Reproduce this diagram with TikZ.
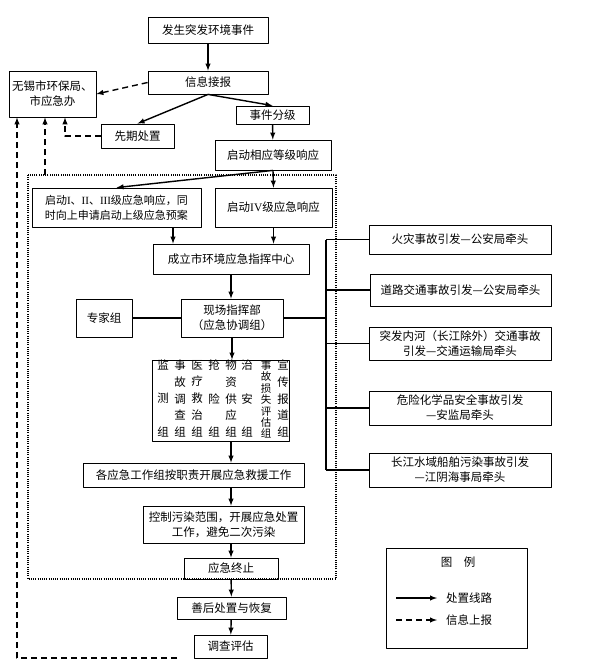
\documentclass[tikz,border=0pt]{standalone}
\usepackage{fontspec}
\setmainfont{Liberation Serif}
\newfontfamily\cjk{Noto Sans CJK SC}
\usepackage{tikz}

\begin{document}
\begin{tikzpicture}[x=1pt, y=-1pt, line join=round, >=latex,
    box/.style={draw, line width=0.8pt, inner sep=1pt, align=center,
      font=\cjk\fontsize{11.5}{15}\selectfont},
    txt/.style={inner sep=0pt, align=center, font=\cjk\fontsize{11.5}{15}\selectfont},
    flow/.style={->, line width=1.4pt},
    report/.style={->, line width=1.4pt, dash pattern=on 6pt off 4pt}]
  \useasboundingbox (0,0) rectangle (594,667);
  \def\mx{231}
  \coordinate (fr1) at (28,175); \coordinate (fr2) at (336,579);
  \coordinate (bus) at (326,0); \coordinate (rpt) at (177,658);
  \draw[line width=1.2pt, dash pattern=on 1pt off 1.2pt] (fr1) rectangle (fr2);
  % main chain
  \node[box, minimum width=120pt, minimum height=26pt] (ev) at (208,30) {发生突发环境事件};
  \node[box, minimum width=120pt, minimum height=23pt] (info) at (208,82.5) {信息接报};
  \node[box, minimum width=87pt, minimum height=46pt] (wx) at (52.5,94) {无锡市环保局、\\市应急办};
  \node[box, minimum width=73pt, minimum height=18pt] (cls) at (272.5,115) {事件分级};
  \node[box, minimum width=73pt, minimum height=24pt] (pre) at (137.5,136) {先期处置};
  \node[box, minimum width=116pt, minimum height=30pt] (lvl) at (273,155) {启动相应等级响应};
  \node[box, minimum width=169pt, minimum height=39pt, font=\cjk\fontsize{11}{15}\selectfont] (r13) at (116.5,207.5)
    {启动\textrm{I}、\textrm{II}、\textrm{III}级应急响应，同\\时向上申请启动上级应急预案};
  \node[box, minimum width=117pt, minimum height=39pt] (r4) at (273.5,207.5) {启动\textrm{IV}级应急响应};
  \node[box, minimum width=156pt, minimum height=30pt] (ctr) at (231,259) {成立市环境应急指挥中心};
  \node[box, minimum width=102pt, minimum height=38pt] (site) at (232,318) {现场指挥部\\（应急协调组）};
  \node[box, minimum width=56pt, minimum height=38pt] (exp) at (104,318) {专家组};
  \node[box, minimum width=137pt, minimum height=81pt] (groups) at (220.5,400.5) {};
  \foreach \x/\a/\b/\c/\d/\e [count=\i] in {163/监/~/测/~/组, 180/事/故/调/查/组, 197/医/疗/救/治/组,
      214/抢/~/险/~/组, 231/物/资/供/应/组, 247/治/~/安/~/组, 283/宣/传/报/道/组}
    \node[txt, font=\cjk\fontsize{11.5}{16.75}\selectfont] (gc\i) at (\x,398.5) {\a\\\b\\\c\\\d\\\e};
  \node[txt, font=\cjk\fontsize{10.5}{11.4}\selectfont] (gc8) at (266,399.5) {事\\故\\损\\失\\评\\估\\组};
  \node[box, minimum width=221pt, minimum height=24pt] (work) at (193.5,475) {各应急工作组按职责开展应急救援工作};
  \node[box, minimum width=161pt, minimum height=37pt] (ctl) at (223.5,524.5) {控制污染范围，开展应急处置\\工作，避免二次污染};
  \node[box, minimum width=94pt, minimum height=21pt] (end) at (231,568.5) {应急终止};
  \node[box, minimum width=109pt, minimum height=22pt] (aft) at (231.5,608) {善后处置与恢复};
  \node[box, minimum width=73pt, minimum height=23pt] (inv) at (230.5,646.5) {调查评估};
  % lead agencies
  \node[box, minimum width=182pt, minimum height=29pt] (f1) at (460,239.5) {火灾事故引发—公安局牵头};
  \node[box, minimum width=181pt, minimum height=32pt] (f2) at (460.5,290) {道路交通事故引发—公安局牵头};
  \node[box, minimum width=182pt, minimum height=33pt] (f3) at (460,343.5) {突发内河（长江除外）交通事故\\引发—交通运输局牵头};
  \node[box, minimum width=182pt, minimum height=34pt] (f4) at (460,408) {危险化学品安全事故引发\\—安监局牵头};
  \node[box, minimum width=182pt, minimum height=34pt] (f5) at (460,470) {长江水域船舶污染事故引发\\—江阴海事局牵头};
  % solid lines
  \draw[flow] (ev) -- (info);
  \draw[flow] (info.south) -- (cls.north);
  \draw[flow] (info.south) -- (pre.north);
  \draw[flow] (cls) -- (lvl);
  \draw[flow] (lvl.south) -- (r13.north);
  \draw[flow] (lvl.south) -- (r4.north);
  \draw[flow] ([xshift=-58pt]ctr.north |- r13.south) -- ([xshift=-58pt]ctr.north);
  \draw[flow] (r4.south) -- (r4.south |- ctr.north);
  \draw[flow] (ctr.south) -- (ctr.south |- site.north);
  \draw[line width=1.4pt] (exp) -- (site);
  \draw[flow] (site.south) -- (site.south |- groups.north);
  \draw[flow] (\mx,0 |- groups.south) -- (\mx,0 |- work.north);
  \draw[flow] (\mx,0 |- work.south) -- (\mx,0 |- ctl.north);
  \draw[flow] (\mx,0 |- ctl.south) -- (end.north);
  \draw[flow] (end) -- (aft);
  \draw[flow] (aft) -- (inv);
  \draw[line width=1.4pt] (site.east) -- (site.east -| bus);
  \draw[line width=1.4pt] (bus |- f1.west) -- (bus |- f5.west);
  \foreach \i in {1,...,5}
    \draw[line width=1.4pt] (f\i.west) -- (f\i.west -| bus);
  % reporting lines
  \draw[report] (info.west) -- (wx.east);
  \draw[report] (pre.west) -| ([xshift=12.5pt]wx.south);
  \draw[report] ([xshift=-7.5pt]wx.south |- fr1) -- ([xshift=-7.5pt]wx.south);
  \draw[report] (rpt) -| ([xshift=-35.5pt]wx.south);
  % legend
  \node[draw, line width=0.8pt, minimum width=141pt, minimum height=100pt] (key) at (456.5,598) {};
  \node[txt] (keyt) at (458,562) {图　例};
  \coordinate (ka) at (396,598); \coordinate (kb) at (437,598);
  \coordinate (kc) at (396,620); \coordinate (kd) at (437,620);
  \draw[flow] (ka) -- (kb);
  \draw[report] (kc) -- (kd);
  \node[txt, anchor=west] (kl1) at (446,598) {处置线路};
  \node[txt, anchor=west] (kl2) at (446,620) {信息上报};
\end{tikzpicture}
\end{document}
